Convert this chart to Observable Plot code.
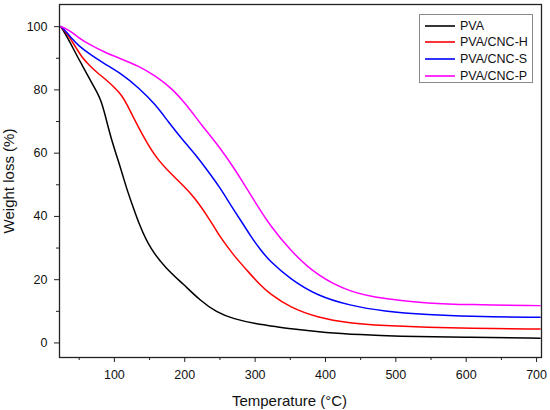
<!DOCTYPE html>
<html>
<head>
<meta charset="utf-8">
<script src="https://cdn.jsdelivr.net/npm/d3@7"></script>
<script src="https://cdn.jsdelivr.net/npm/@observablehq/plot@0.6"></script>
<style>
  body { margin: 0; background: #fff; }
  #wrap { position: relative; width: 550px; height: 410px; font-family: "Liberation Sans", Arial, sans-serif; }
  #legend { position: absolute; left: 419px; top: 14px; width: 114px; height: 69px; border: 1px solid #8a8a8a; background: #fff; box-sizing: border-box; }
  .row { position: absolute; left: 5px; height: 17px; display: flex; align-items: center; font-size: 12.5px; color: #111; }
  .row svg { margin-right: 5px; }
</style>
</head>
<body>
<div id="wrap"></div>
<script>
const seriesNames = ["PVA", "PVA/CNC-H", "PVA/CNC-S", "PVA/CNC-P"];
const seriesColors = ["#000000", "#ff0000", "#0000ff", "#ff00ff"];

const tPVA = [24, 35, 45, 55, 63, 70, 76, 81, 87, 96, 108, 117, 125, 136, 151, 174, 198, 222, 245, 269, 302, 328, 360, 399, 450, 499, 598, 705];
const wPVA = [100, 96, 91.5, 87.5, 84.2, 81.4, 79, 76.6, 72, 64, 56, 49, 44, 37, 29.7, 23.4, 18.6, 13.4, 9.7, 7.6, 6.0, 5.2, 4.2, 3.3, 2.6, 2.1, 1.8, 1.5];

const tH = [24, 32, 39.5, 47, 53.7, 63, 75, 88, 101, 110, 117.6, 129, 143, 160, 179, 200, 215, 230, 241, 250, 269, 293, 307, 321, 350, 387.5, 435, 482, 548, 600, 705];
const wH = [100, 98, 95.5, 92.8, 90.4, 88.1, 85.5, 83.3, 80.6, 78.4, 75.6, 70.4, 64.5, 58.3, 53.8, 49.3, 45.6, 40.8, 37, 33.6, 27.8, 21.8, 18.4, 15.5, 11.2, 8.1, 6.2, 5.5, 4.9, 4.6, 4.4];

const tS = [24, 32, 39.5, 50, 63, 87, 110.5, 134, 158, 177, 196, 214.6, 229, 250, 269, 283, 293, 307, 321, 350, 387.5, 435, 482, 548, 600, 705];
const wS = [100, 98.3, 96.2, 93.8, 91.6, 88.1, 85, 80.8, 75.5, 69.8, 64.5, 59.7, 55.5, 49.2, 42.2, 37.6, 34, 29.6, 25.8, 20.2, 15, 11.8, 10, 8.9, 8.4, 8.1];

const tP = [24, 32, 39.5, 50, 63, 87, 110.5, 134, 158, 181.5, 205, 222, 250, 269, 285, 302, 321, 350, 387.5, 435, 482, 548, 600, 705];
const wP = [100, 99.3, 98.2, 96.4, 94.5, 91.8, 89.7, 87.6, 84.5, 80.6, 74.6, 69.4, 61.8, 55.6, 50, 43.8, 37.2, 29.2, 21.3, 16, 13.9, 12.5, 12.1, 11.8];

const xMajor = [100, 200, 300, 400, 500, 600, 700];
const xMinor = [50, 150, 250, 350, 450, 550, 650];
const yMajor = [0, 20, 40, 60, 80, 100];
const yMinor = [10, 30, 50, 70, 90];

const series = [[tPVA, wPVA], [tH, wH], [tS, wS], [tP, wP]];
const data = [];
series.forEach(([ts, ws], i) => ts.forEach((t, j) => data.push({series: seriesNames[i], t, w: ws[j]})));

const font = "Liberation Sans, Arial, sans-serif";

const chart = Plot.plot({
  width: 550,
  height: 410,
  marginLeft: 59,
  marginRight: 9,
  marginTop: 4,
  marginBottom: 53,
  style: {fontFamily: font, background: "#fff", color: "#111"},
  x: {domain: [22, 707]},
  y: {domain: [-4.6, 107]},
  color: {domain: seriesNames, range: seriesColors},
  marks: [
    Plot.line(data, {x: "t", y: "w", z: "series", stroke: "series", strokeWidth: 1.5, curve: "basis"}),
    Plot.frame({stroke: "#222", strokeWidth: 1.3}),
    Plot.axisX(xMajor, {tickSize: 5, tickPadding: 8, fontSize: 12.5, stroke: "#222", fill: "#111",
      label: "Temperature (°C)", labelAnchor: "center", labelArrow: "none"}),
    Plot.axisX(xMinor, {tickSize: 3, tickFormat: () => "", stroke: "#222", label: null}),
    Plot.axisY(yMajor, {tickSize: 5, tickPadding: 7, fontSize: 12.5, stroke: "#222", fill: "#111",
      label: "Weight loss (%)", labelAnchor: "center", labelArrow: "none"}),
    Plot.axisY(yMinor, {tickSize: 3, tickFormat: () => "", stroke: "#222", label: null})
  ]
});

// axis title fonts and placement
chart.querySelectorAll("g[aria-label='x-axis label'] text, g[aria-label='y-axis label'] text").forEach(t => t.setAttribute("font-size", "15"));
const xl = chart.querySelector("g[aria-label='x-axis label']");
if (xl) {
  const prev = xl.getAttribute("transform") || "";
  xl.setAttribute("transform", ("translate(-11,-2) " + prev).trim());
}

const wrap = document.getElementById("wrap");
wrap.appendChild(chart);

const legend = document.createElement("div");
legend.id = "legend";
seriesNames.forEach((name, i) => {
  const row = document.createElement("div");
  row.className = "row";
  row.style.top = (2 + i * 16.8) + "px";
  row.innerHTML = `<svg width="30" height="4"><line x1="0" x2="30" y1="2" y2="2" stroke="${seriesColors[i]}" stroke-width="1.6"/></svg><span>${name}</span>`;
  legend.appendChild(row);
});
wrap.appendChild(legend);
</script>
</body>
</html>
